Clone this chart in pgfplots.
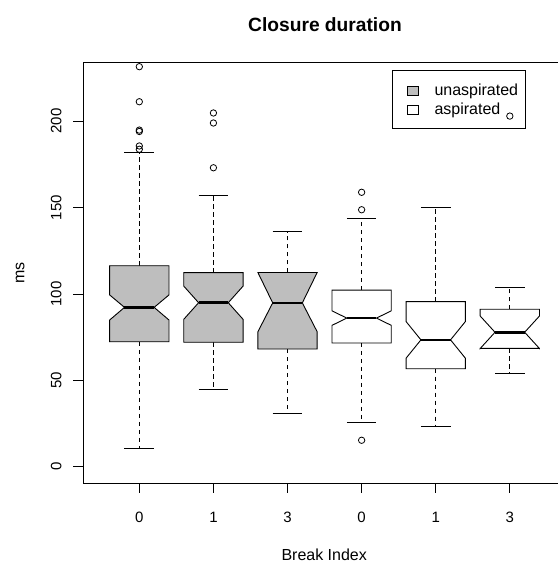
\documentclass[border=0pt]{standalone}
\usepackage{fontspec}
\setmainfont{Liberation Sans}
\usepackage{pgfplots}
\pgfplotsset{compat=1.18}
\definecolor{boxgray}{HTML}{BEBEBE}

% notched box: #1 centre, #2 fill, #3 low whisker, #4 Q1, #5 notch low,
% #6 median, #7 notch high, #8 Q3, #9 high whisker
\newcommand{\nbox}[9]{%
  \addplot[forget plot, line width=0.8bp, dash pattern=on 4.3bp off 3.7bp]
    coordinates {(#1,#8) (#1,#9)};
  \addplot[forget plot, line width=0.8bp, dash pattern=on 4.3bp off 3.7bp]
    coordinates {(#1,#4) (#1,#3)};
  \addplot[forget plot, line width=0.8bp] table[row sep=\\, x expr=\thisrow{d}+#1, y=v]
    {d v\\ -0.2 #9\\ 0.2 #9\\};
  \addplot[forget plot, line width=0.8bp] table[row sep=\\, x expr=\thisrow{d}+#1, y=v]
    {d v\\ -0.2 #3\\ 0.2 #3\\};
  \addplot[forget plot, draw=black, fill=#2, line width=0.9bp, line join=miter]
    table[row sep=\\, x expr=\thisrow{d}+#1, y=v]
    {d v\\ -0.4 #4\\ 0.4 #4\\ 0.4 #5\\ 0.2 #6\\ 0.4 #7\\ 0.4 #8\\ -0.4 #8\\ -0.4 #7\\ -0.2 #6\\ -0.4 #5\\ -0.4 #4\\ 0.4 #4\\};
  \addplot[forget plot, line width=2.6bp] table[row sep=\\, x expr=\thisrow{d}+#1, y=v]
    {d v\\ -0.2 #6\\ 0.2 #6\\};
}

\begin{document}
\begin{tikzpicture}
\useasboundingbox (-83bp,-79bp) rectangle (475bp,483bp);
\begin{axis}[
  scale only axis, width=475bp, height=420.3bp,
  xmin=0.24, xmax=6.65, ymin=-9.43, ymax=233.8,
  clip=false,
  axis line style={draw=none},
  tick align=outside, major tick length=9.5bp,
  tick style={black, line width=0.8bp},
  xtick={1,2,3,4,5,6}, xticklabels={0,1,3,0,1,3},
  ytick={0,50,100,150,200},
  xtick pos=bottom, ytick pos=left,
  /pgf/number format/assume math mode=true,
  ticklabel style={font=\fontsize{15bp}{18bp}\selectfont, inner sep=0pt},
  xticklabel style={anchor=north},
  yticklabel style={rotate=90, anchor=south},
  xticklabel shift=19.2bp, yticklabel shift=11.8bp,
  legend style={at={(axis description cs:0.6512,0.9826)}, anchor=north west,
    draw=black, fill=none, line width=0.8bp,
    font=\fontsize{16bp}{19bp}\selectfont,
    inner xsep=7.6bp, inner ysep=11.5bp, row sep=3bp, column sep=15.6bp,
    nodes={inner sep=0pt, text height=13.5bp, text depth=2.5bp}},
  legend cell align=left,
  legend image code/.code={\path (-6.8bp,0bp); \draw[#1] (0bp,-5.3bp) rectangle (11bp,3.7bp);},
]
\addlegendimage{draw=black, fill=boxgray, line width=0.8bp}
\addlegendentry{unaspirated}
\addlegendimage{draw=black, fill=white, line width=0.8bp}
\addlegendentry{aspirated}

\nbox{1}{boxgray}{10.6}{72.3}{84.9}{92.2}{99.4}{116.3}{181.9}
\nbox{2}{boxgray}{44.6}{72.0}{85.3}{94.9}{104.5}{112.3}{157.0}
\nbox{3}{boxgray}{30.9}{68.1}{78.1}{94.8}{112.4}{112.4}{136.0}
\nbox{4}{white}{25.5}{71.6}{81.8}{86.0}{90.2}{102.2}{143.9}
\nbox{5}{white}{23.1}{56.7}{62.8}{73.4}{84.0}{95.5}{149.9}
\nbox{6}{white}{54.0}{68.5}{68.4}{77.8}{87.2}{91.1}{103.6}

\addplot[forget plot, only marks, mark=o, mark size=3.2bp, mark options={line width=0.8bp}]
  coordinates {(1,231.5) (1,211.2) (1,194.0) (1,194.8) (1,185.6) (1,183.7)
               (2,204.7) (2,198.9) (2,173.0)
               (4,158.8) (4,148.7) (4,15.3)
               (6,202.9)};

\draw[line width=0.9bp] (rel axis cs:1,1) -- (rel axis cs:0,1) -- (rel axis cs:0,0) -- (rel axis cs:1,0);
\end{axis}
\node[anchor=base, font=\bfseries\fontsize{19.2bp}{23bp}\selectfont] at (242bp,451.3bp) {Closure duration};
\node[anchor=base, font=\fontsize{16bp}{19bp}\selectfont] at (241.2bp,-77bp) {Break Index};
\node[anchor=base, rotate=90, font=\fontsize{16bp}{19bp}\selectfont] at (-58.7bp,210.1bp) {ms};
\end{tikzpicture}
\end{document}
